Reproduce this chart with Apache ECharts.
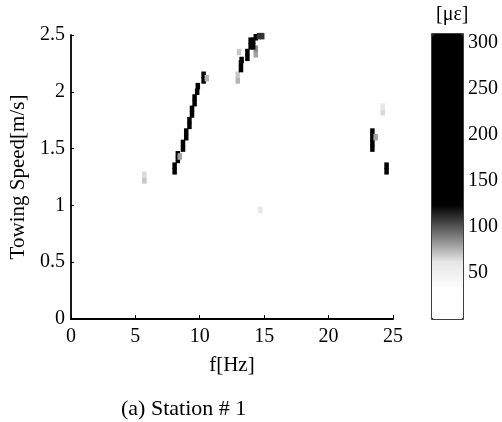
<!DOCTYPE html>
<html>
<head>
<meta charset="utf-8">
<script src="https://cdn.jsdelivr.net/npm/echarts@6/dist/echarts.min.js"></script>
<style>
  html, body { margin: 0; padding: 0; background: #fff; }
  #main { width: 502px; height: 422px; }
</style>
</head>
<body>
<div id="main"></div>
<script>
// [f (Hz), towing speed (m/s), strain (με)]
const lowBranch = [
  [8.05, 1.30, 290], [8.05, 1.35, 280],
  [8.3, 1.40, 270], [8.3, 1.45, 260], [8.45, 1.43, 80],
  [8.7, 1.50, 290], [8.7, 1.55, 290],
  [8.95, 1.60, 290], [8.95, 1.65, 290],
  [9.2, 1.70, 280], [9.2, 1.75, 290],
  [9.4, 1.80, 290], [9.4, 1.85, 290],
  [9.6, 1.90, 290], [9.6, 1.95, 280],
  [9.8, 2.00, 290], [9.85, 2.05, 290],
  [10.3, 2.10, 300], [10.3, 2.15, 300], [10.55, 2.12, 75]
]
const highBranch = [
  [12.95, 2.10, 75], [12.95, 2.15, 70],
  [13.2, 2.20, 300], [13.2, 2.25, 290], [13.25, 2.28, 150],
  [13.05, 2.35, 70],
  [13.7, 2.30, 300], [13.7, 2.35, 300],
  [14.35, 2.33, 80], [14.35, 2.38, 85],
  [13.95, 2.40, 300], [14.15, 2.40, 300], [13.95, 2.45, 300], [14.15, 2.45, 300],
  [14.35, 2.48, 140], [14.6, 2.49, 110], [14.85, 2.49, 110]
]
const rightSpots = [
  [23.4, 1.50, 130], [23.4, 1.55, 220], [23.4, 1.60, 230], [23.4, 1.65, 150],
  [23.65, 1.60, 80],
  [24.2, 1.82, 65], [24.2, 1.87, 60],
  [24.5, 1.30, 200], [24.5, 1.35, 190]
]
const faintSpots = [
  [5.7, 1.22, 70], [5.7, 1.27, 65],
  [14.7, 0.96, 62]
]
const xTicks = [0, 5, 10, 15, 20, 25]
const yTicks = [0, 0.5, 1, 1.5, 2, 2.5]
const barTicks = [50, 100, 150, 200, 250, 300]

const font = 'Liberation Serif'
const chart = echarts.init(document.getElementById('main'), null, { renderer: 'canvas' })

chart.setOption({
  animation: false,
  backgroundColor: '#fff',
  textStyle: { fontFamily: font, color: '#000' },
  title: [
    { text: '(a) Station # 1', left: 116, top: 393,
      textStyle: { fontFamily: font, fontSize: 22, fontWeight: 'normal', color: '#000' } },
    { text: '[με]', left: 431, top: 0,
      textStyle: { fontFamily: font, fontSize: 20, fontWeight: 'normal', color: '#000' } }
  ],
  grid: [
    { left: 68, top: 35, width: 325, height: 284 },
    { left: 432, top: 34, width: 31, height: 285, show: true, borderColor: '#000', borderWidth: 1.5 }
  ],
  xAxis: [
    {
      gridIndex: 0, type: 'value', min: xTicks[0], max: xTicks[xTicks.length - 1], interval: 5,
      name: 'f[Hz]', nameLocation: 'middle', nameGap: 36,
      nameTextStyle: { fontFamily: font, fontSize: 21, color: '#000' },
      axisLine: { lineStyle: { color: '#000', width: 1.8 } },
      axisTick: { inside: true, length: 4, lineStyle: { color: '#000' } },
      axisLabel: { fontFamily: font, fontSize: 20, color: '#000', margin: 8 },
      splitLine: { show: false }
    },
    { gridIndex: 1, type: 'category', data: [''], show: false }
  ],
  yAxis: [
    {
      gridIndex: 0, type: 'value', min: yTicks[0], max: yTicks[yTicks.length - 1], interval: 0.5,
      name: 'Towing Speed[m/s]', nameLocation: 'middle', nameGap: 40,
      nameTextStyle: { fontFamily: font, fontSize: 21, color: '#000' },
      axisLine: { show: true, lineStyle: { color: '#000', width: 1.8 } },
      axisTick: { show: true, inside: true, length: 3, lineStyle: { color: '#000' } },
      axisLabel: { fontFamily: font, fontSize: 20, color: '#000', margin: 6 },
      splitLine: { show: false }
    },
    {
      gridIndex: 1, type: 'value', min: 0, max: 310, position: 'right',
      axisLine: { show: false },
      axisTick: { show: false },
      axisLabel: { fontFamily: font, fontSize: 20, color: '#000', margin: 5, customValues: barTicks },
      splitLine: { show: false }
    }
  ],
  visualMap: {
    type: 'continuous',
    seriesIndex: [0, 1, 2, 3],
    dimension: 2,
    min: 0, max: 310,
    calculable: false,
    hoverLink: false,
    left: 432, top: 34,
    itemWidth: 31, itemHeight: 285,
    padding: 0,
    text: null,
    showLabel: false,
    inRange: {
      color: ['#ffffff', '#ffffff', '#e6e6e6', '#707070', '#000000', '#000000',
               '#000000', '#000000', '#000000', '#000000', '#000000']
    }
  },
  series: [lowBranch, highBranch, rightSpots, faintSpots].map(d => ({
    type: 'scatter',
    xAxisIndex: 0, yAxisIndex: 0,
    data: d,
    symbol: 'rect',
    symbolSize: [4.5, 6.5],
    itemStyle: { opacity: 1 }
  }))
})
</script>
</body>
</html>
